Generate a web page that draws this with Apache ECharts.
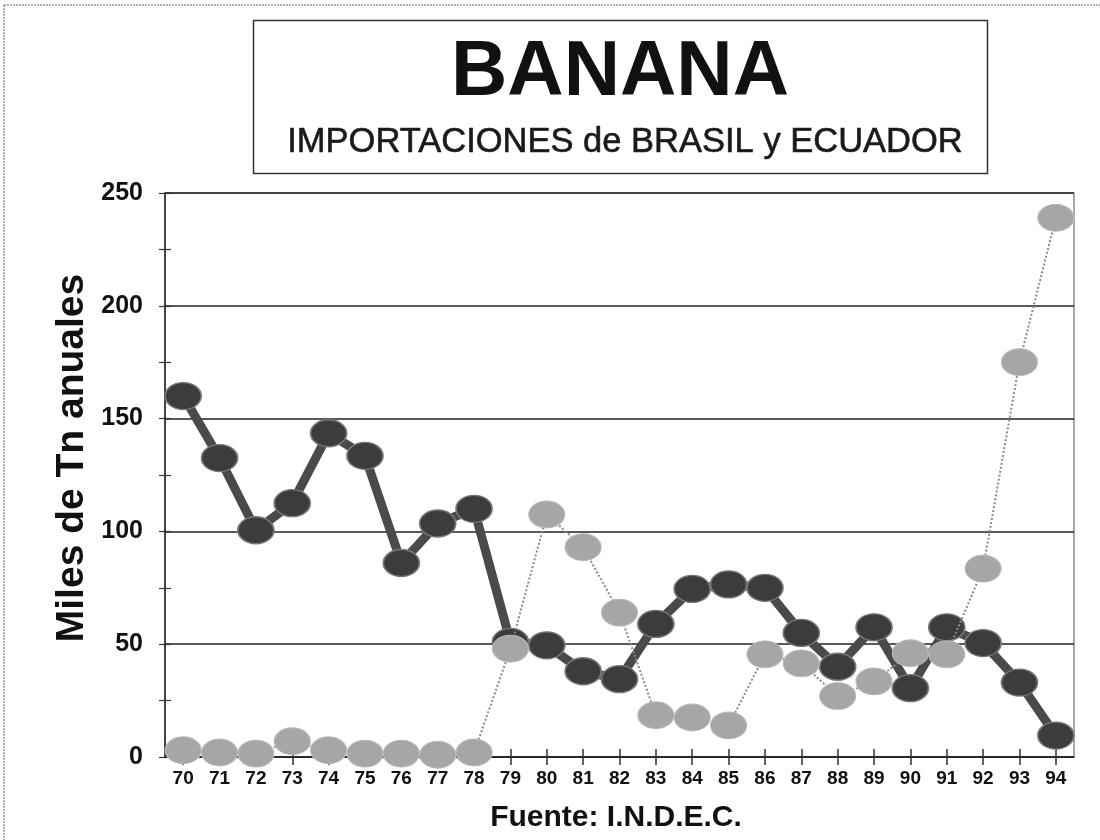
<!DOCTYPE html>
<html>
<head>
<meta charset="utf-8">
<script src="https://cdn.jsdelivr.net/npm/echarts@6/dist/echarts.min.js"></script>
<style>
  html, body { margin: 0; padding: 0; background: #fff; }
  #chart { width: 1100px; height: 840px; }
</style>
</head>
<body>
<div id="chart"></div>
<script>
// ---- data ----
const years = ['70','71','72','73','74','75','76','77','78','79','80','81','82','83','84','85','86','87','88','89','90','91','92','93','94'];
const brasil = [160, 132.5, 100.5, 112.5, 143.5, 133.5, 86, 103.5, 110, 51, 49.5, 38, 34.5, 59, 74.5, 76.5, 75, 55, 40, 57.5, 30.5, 57.5, 50.5, 33, 9.5];
const ecuador = [3, 2, 1.5, 7, 3, 1.5, 1.5, 1, 2, 48, 107.5, 93, 64, 18.5, 17.5, 14, 45.5, 41.5, 27, 33.5, 46, 45.5, 83.5, 175, 239];
const yTicks = [0, 50, 100, 150, 200, 250];

const titleText = 'BANANA';
const subtitleText = 'IMPORTACIONES de BRASIL y ECUADOR';
const yName = 'Miles de Tn anuales';
const sourceText = 'Fuente: I.N.D.E.C.';

const FONT = '"Liberation Sans", Arial, Helvetica, sans-serif';
const chart = echarts.init(document.getElementById('chart'), null, { renderer: 'canvas' });

const yMin = yTicks[0], yMax = yTicks[yTicks.length - 1];

chart.setOption({
  backgroundColor: '#ffffff',
  animation: false,
  grid: {
    left: 165, right: 26, top: 193, bottom: 83,
    show: true, borderColor: '#555', borderWidth: 1, backgroundColor: 'transparent'
  },
  graphic: [
    // outer page border (dotted scan border)
    { type: 'line', shape: { x1: 4, y1: 5, x2: 1100, y2: 5 }, style: { stroke: '#666', lineWidth: 1, lineDash: [2, 1] }, silent: true },
    { type: 'line', shape: { x1: 4, y1: 5, x2: 4, y2: 840 }, style: { stroke: '#666', lineWidth: 1, lineDash: [2, 1] }, silent: true },
    // title box
    { type: 'rect', shape: { x: 253.5, y: 20.5, width: 734, height: 153 }, style: { fill: 'none', stroke: '#333', lineWidth: 1.5 }, silent: true },
    { type: 'text', x: 620, y: 73, style: { text: titleText, fill: '#111', font: 'bold 78px ' + FONT, textAlign: 'center', textVerticalAlign: 'middle' }, silent: true },
    { type: 'text', x: 625, y: 142, style: { text: subtitleText, fill: '#1a1a1a', font: '34.5px ' + FONT, textAlign: 'center', textVerticalAlign: 'middle', stroke: '#1a1a1a', lineWidth: 0.6 }, silent: true },
    // y-axis name
    { type: 'text', x: 72, y: 458, rotation: Math.PI / 2, style: { text: yName, fill: '#111', font: 'bold 39px ' + FONT, textAlign: 'center', textVerticalAlign: 'middle' }, silent: true },
    // source
    { type: 'text', x: 616, y: 818, style: { text: sourceText, fill: '#111', font: 'bold 30px ' + FONT, textAlign: 'center', textVerticalAlign: 'middle' }, silent: true }
  ],
  xAxis: [
    {
      type: 'category', data: years, boundaryGap: true,
      axisLine: { show: true, lineStyle: { color: '#222', width: 1.5 } },
      axisTick: { show: true, alignWithLabel: true, interval: 0, length: 8, lineStyle: { color: '#333', width: 1.5 } },
      axisLabel: { interval: 0, margin: 12, color: '#111', fontFamily: FONT, fontWeight: 'bold', fontSize: 19 },
      splitLine: { show: false }
    },
    {
      type: 'category', data: years, boundaryGap: true, position: 'bottom',
      axisLine: { show: false },
      axisTick: { show: true, inside: true, alignWithLabel: true, interval: 0, length: 8, lineStyle: { color: '#333', width: 1.5 } },
      axisLabel: { show: false },
      splitLine: { show: false }
    }
  ],
  yAxis: [
    {
      type: 'value', min: yMin, max: yMax, interval: 50,
      axisLine: { show: true, lineStyle: { color: '#222', width: 1.5 } },
      axisTick: { show: false },
      axisLabel: { margin: 22, color: '#111', fontFamily: FONT, fontWeight: 'bold', fontSize: 25 },
      splitLine: { show: true, lineStyle: { color: '#222', width: 1.5 } }
    },
    {
      type: 'value', min: yMin, max: yMax, interval: 25, position: 'left',
      axisLine: { show: false },
      axisTick: { show: true, length: 6, lineStyle: { color: '#333', width: 1.2 } },
      axisLabel: { show: false }, splitLine: { show: false }
    },
    {
      type: 'value', min: yMin, max: yMax, interval: 25, position: 'left',
      axisLine: { show: false },
      axisTick: { show: true, inside: true, length: 6, lineStyle: { color: '#333', width: 1.2 } },
      axisLabel: { show: false }, splitLine: { show: false }
    }
  ],
  series: [
    {
      name: 'Brasil', type: 'line', data: brasil, xAxisIndex: 0, yAxisIndex: 0,
      symbol: 'circle', symbolSize: [36, 27], showSymbol: true,
      lineStyle: { color: '#4a4a4a', width: 9 },
      itemStyle: { color: '#3c3c3c', borderColor: '#777', borderWidth: 1.5 },
      z: 3
    },
    {
      name: 'Ecuador', type: 'line', data: ecuador, xAxisIndex: 0, yAxisIndex: 0,
      symbol: 'circle', symbolSize: [36, 27], showSymbol: true,
      lineStyle: { color: '#8a8a8a', width: 2, type: 'dotted' },
      itemStyle: { color: '#a6a6a6', borderColor: '#bbb', borderWidth: 1 },
      z: 4
    }
  ]
});
</script>
</body>
</html>
